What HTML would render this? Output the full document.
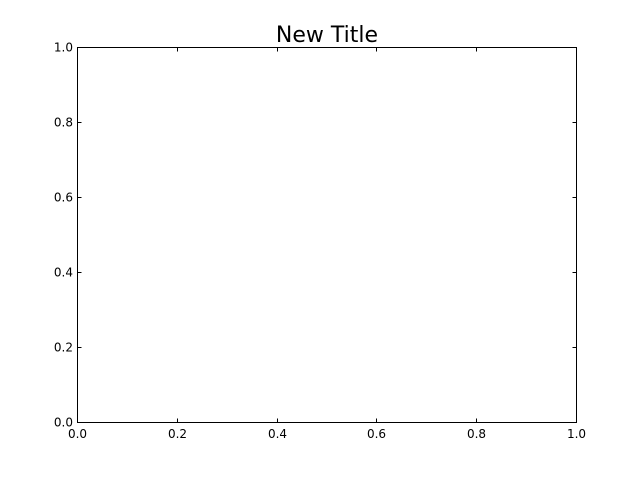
<!DOCTYPE html>
<html><head><meta charset="utf-8"><style>
html,body{margin:0;padding:0;background:#fff;}
svg{display:block;}
text{font-family:"DejaVu Sans","Liberation Sans",sans-serif;fill:#000;}
</style></head><body>
<svg id="chart" width="640" height="480">
<rect width="640" height="480" fill="#fff"/>
<text x="327" y="42" font-size="22" text-anchor="middle">New Title</text>
<rect x="77.5" y="47.5" width="499" height="375" fill="none" stroke="#000" stroke-width="1"/>
<g id="ticks"></g>
</svg>
<script>
const xTicks = [0.0, 0.2, 0.4, 0.6, 0.8, 1.0];
const yTicks = [0.0, 0.2, 0.4, 0.6, 0.8, 1.0];
const xLabels = ["0.0","0.2","0.4","0.6","0.8","1.0"];
const yLabels = ["0.0","0.2","0.4","0.6","0.8","1.0"];
const L=77.5,R=576.5,T=47.5,B=422.5;
const xs=v=>L+(R-L)*v, ys=v=>B-(B-T)*v;
const g=document.getElementById('ticks');
const NS='http://www.w3.org/2000/svg';
function line(x1,y1,x2,y2,name){const l=document.createElementNS(NS,'line');
l.setAttribute('x1',x1);l.setAttribute('y1',y1);l.setAttribute('x2',x2);l.setAttribute('y2',y2);
l.setAttribute('stroke','#000');l.setAttribute('stroke-width','1');


g.appendChild(l);}
function txt(x,y,s,anchor,name){const t=document.createElementNS(NS,'text');
t.setAttribute('x',x);t.setAttribute('y',y);t.setAttribute('font-size','12');t.setAttribute('text-anchor',anchor);t.textContent=s;


g.appendChild(t);}
xTicks.forEach((v,i)=>{const x=Math.round(xs(v)-0.5)+0.5;
line(x,B,x,B-4,'x-tick');line(x,T,x,T+4,'x-tick-top');
txt(x,438,xLabels[i],'middle','x-tick-label');});
yTicks.forEach((v,i)=>{const y=Math.round(ys(v)-0.5)+0.5;
line(L,y,L+4,y,'y-tick');line(R,y,R-4,y,'y-tick-right');
txt(73,y+4,yLabels[i],'end','y-tick-label');});
</script>
</body></html>
